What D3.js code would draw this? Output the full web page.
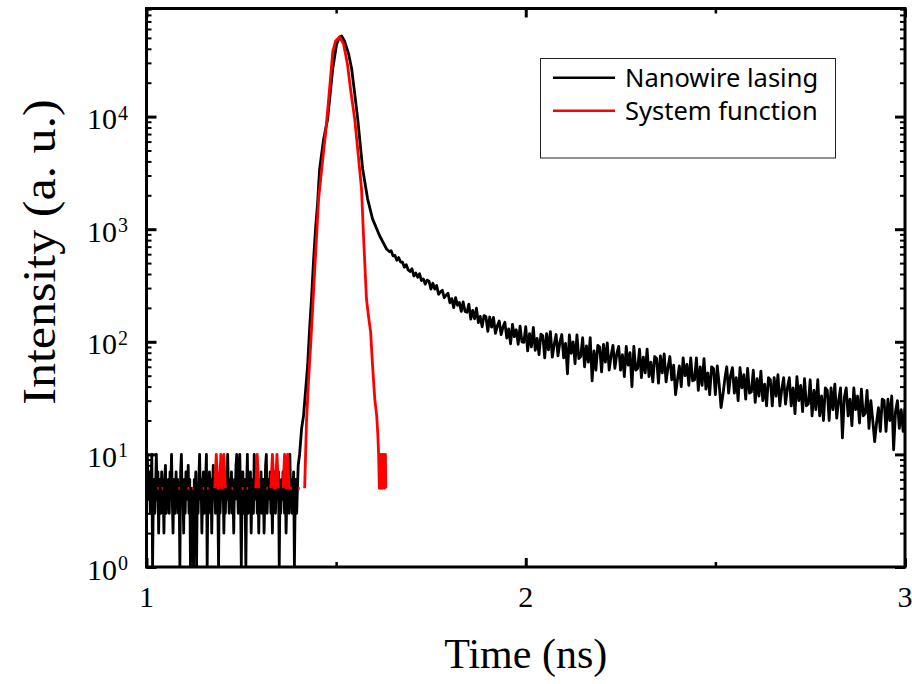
<!doctype html>
<html>
<head>
<meta charset="utf-8" />
<script src="https://d3js.org/d3.v7.min.js"></script>
<style>
  body{ margin:0; background:#fff; }
  text{ font-family: "Liberation Serif", "Times New Roman", serif; fill:#000; }
  .legend text{ font-family: "Noto Sans", "DejaVu Sans", sans-serif; }
</style>
</head>
<body>
<script>
// background counts of the lasing trace, bins of 2 ps from 1.0 ns
var blackBaseStart = 1.0, blackBaseStep = 0.002;
var blackBase = [10,10,6,4,7,3,5,10,1,4,
  6,3,5,10,4,7,2,5,6,3,
  7,4,5,2,6,8,3,5,4,6,
  3,7,5,10,4,2,6,5,3,7,
  4,6,3,5,1,7,10,4,5,2,
  6,3,7,4,5,8,3,6,1,4,
  5,3,1,6,4,7,1,5,3,6,
  10,4,6,2,5,7,3,4,6,10,
  1,5,3,7,4,6,2,5,8,4,
  6,3,5,7,4,1,6,3,5,7,
  4,6,2,5,3,7,4,10,5,3,
  6,4,7,3,5,2,6,4,8,10,
  5,3,6,10,4,1,5,7,3,6,
  4,1,5,10,3,6,4,7,2,5,
  6,3,10,5,4,7,3,6,2,5,
  4,7,3,5,6,2,4,8,10,3,
  5,6,4,7,3,5,2,6,4,7,
  3,5,6,4,7,1,5,3,6,4,
  7,5,3,6,2,4,7,5,3,10,
  4,6,3,5,7,1,4,6,3,5,
  8];

// rise + peak of lasing trace [time ns, counts]
var blackPeak = [[1.4037,10],[1.409,17],[1.414,22],[1.4195,37],[1.4248,61],[1.430,130],
  [1.435,240],[1.4406,540],[1.446,1040],[1.451,1680],[1.4565,3430],[1.467,6300],
  [1.4776,9500],[1.491,26500],[1.5013,44000],[1.509,50700],[1.5145,52000],[1.522,47000],
  [1.533,36000],[1.541,26500],[1.549,16000],[1.557,9500],[1.570,3430],[1.583,1860],
  [1.596,1234],[1.615,870],[1.633,667],[1.641,630]];

// decay tail, bins of 5 ps from 1.645 ns
var tailStart = 1.645, tailStep = 0.005;
var blackTail = [645,580,586,529,560,511,509,460,484,435,
  421,445,384,408,374,403,350,362,325,353,
  345,294,331,294,317,264,278,287,246,259,
  270,222,242,201,247,211,224,186,226,186,
  183,216,159,190,160,199,148,168,136,171,
  167,124,166,135,165,119,138,153,116,135,
  149,108,130,96,143,111,128,95,138,100,
  99,136,83,118,90,134,84,107,77,117,
  113,72,118,85,123,73,95,116,75,99,
  116,72,97,52,115,79,100,64,115,71,
  74,109,60,92,66,109,45,83,56,93,
  90,54,95,66,98,56,75,93,58,78,
  91,56,77,49,91,62,80,40,91,56,
  58,86,48,73,53,86,49,66,44,74,
  71,43,75,53,78,44,59,74,46,62,
  34,46,61,40,72,50,63,41,72,45,
  46,72,37,60,41,71,38,53,34,60,
  58,34,61,42,26,34,47,60,35,50,
  59,35,48,30,59,39,51,31,58,35,
  36,56,29,47,33,55,30,42,27,48,
  46,27,48,33,51,27,38,48,28,39,
  48,27,39,23,49,30,41,24,47,27,
  28,46,22,37,25,46,22,33,20,39,
  37,20,39,25,42,21,30,39,14,32,
  39,22,31,18,39,25,33,19,38,22,
  23,37,17,30,20,13,19,26,16,31,
  30,16,31,20,33,11,24,30,17,25,
  16,26];

// system function background, bins of 4 ps from 1.0 ns (0 = no count)
var redBaseStart = 1.0, redBaseStep = 0.004;
var redBase = [5,5,0,0,0,0,0,5,5,0,
  5,5,0,0,0,0,0,0,0,0,
  0,5,5,0,0,0,0,5,5,0,
  5,5,0,0,0,0,0,5,5,0,
  5,5,0,0,0,5,10,5,5,10,
  5,10,5,0,0,0,5,5,0,0,
  0,0,0,5,5,0,5,5,0,0,
  0,0,5,10,5,0,0,0,0,5,
  5,0,5,10,5,5,10,5,0,0,
  5,10,5,10,5,5,5,0,0,0,
  5,5,0,0];

var redPeak = [[1.417,5],[1.4195,10],[1.422,20],[1.427,44],[1.4327,92],[1.438,195],
  [1.4433,417],[1.4485,870],[1.4538,1860],[1.459,2740],[1.464,3970],[1.472,7000],
  [1.478,11700],[1.4855,22500],[1.491,37500],[1.4987,47000],[1.509,51000],[1.5198,44000],
  [1.530,29000],[1.538,17500],[1.549,9500],[1.557,5100],[1.567,2270],[1.5726,820],
  [1.580,240],[1.5858,165],[1.591,122],[1.596,62],[1.602,31],[1.607,22],[1.610,15],
  [1.612,10],[1.614,5],[1.616,10],[1.618,5],[1.620,10],[1.622,5],[1.624,10],[1.626,10],
  [1.628,5],[1.630,10],[1.631,5]];

var xTicks = [1, 2, 3];
var xMinor = [1.5, 2.5];
var yTicks = [1, 10, 100, 1000, 10000];
var yLabelExp = ["0", "1", "2", "3", "4"];
var legendNames = ["Nanowire lasing", "System function"];
var legendColors = ["#000000", "#ff0000"];

function chart(){
  var W = 912, H = 684;
  var left = 146.5, right = 905, top = 8.5, bottom = 567;

  var svg = d3.select("body").append("svg").attr("width", W).attr("height", H);
  svg.append("rect").attr("width", W).attr("height", H).attr("fill", "#fff");

  var x = d3.scaleLinear().domain([1, 3]).range([left, right]);
  var y = d3.scaleLog().domain([1, Math.pow(10, 4.96)]).range([bottom, top]);

  var black = blackBase.map(function(v, i){ return {t: blackBaseStart + i * blackBaseStep, v: v}; })
    .concat(blackPeak.map(function(p){ return {t: p[0], v: p[1]}; }))
    .concat(blackTail.map(function(v, i){ return {t: tailStart + i * tailStep, v: v}; }));
  var red = redBase.map(function(v, i){ return {t: redBaseStart + i * redBaseStep, v: v}; })
    .concat(redPeak.map(function(p){ return {t: p[0], v: p[1]}; }));

  svg.append("clipPath").attr("id", "plot")
    .append("rect").attr("x", left).attr("y", top).attr("width", right - left).attr("height", bottom - top);

  var line = d3.line().defined(function(d){ return d.v > 0; })
    .x(function(d){ return x(d.t); }).y(function(d){ return y(d.v); });

  var g = svg.append("g").attr("clip-path", "url(#plot)");
  g.append("path").datum(black).attr("d", line)
    .attr("fill", "none").attr("stroke", "#000").attr("stroke-width", 2.8).attr("stroke-linejoin", "round");
  g.append("path").datum(red).attr("d", line)
    .attr("fill", "none").attr("stroke", "#ff0000").attr("stroke-width", 2.8).attr("stroke-linejoin", "round");

  // ticks, all pointing inward, mirrored on top/right
  var yMinor = y.ticks().filter(function(v){ return yTicks.indexOf(v) < 0 && v > 1; });
  function ticks(axis, tf, size, width){
    var a = svg.append("g").attr("transform", tf).call(axis.tickSize(size).tickFormat(""));
    a.select(".domain").remove();
    a.selectAll("line").attr("stroke", "#000").attr("stroke-width", width);
  }
  ticks(d3.axisBottom(x).tickValues(xTicks), "translate(0," + bottom + ")", -9, 3);
  ticks(d3.axisBottom(x).tickValues(xMinor), "translate(0," + bottom + ")", -5, 2.5);
  ticks(d3.axisTop(x).tickValues(xTicks), "translate(0," + top + ")", -9, 3);
  ticks(d3.axisTop(x).tickValues(xMinor), "translate(0," + top + ")", -5, 2.5);
  ticks(d3.axisLeft(y).tickValues(yTicks), "translate(" + left + ",0)", -10, 3);
  ticks(d3.axisLeft(y).tickValues(yMinor), "translate(" + left + ",0)", -5, 2);
  ticks(d3.axisRight(y).tickValues(yTicks), "translate(" + right + ",0)", -10, 3);
  ticks(d3.axisRight(y).tickValues(yMinor), "translate(" + right + ",0)", -5, 2);

  svg.append("rect").attr("x", left).attr("y", top).attr("width", right - left).attr("height", bottom - top)
    .attr("fill", "none").attr("stroke", "#000").attr("stroke-width", 3);

  // tick labels
  svg.selectAll("text.xl").data(xTicks).enter().append("text").attr("class", "xl")
    .attr("x", function(d){ return x(d); }).attr("y", 607)
    .attr("text-anchor", "middle").attr("font-size", 30).text(function(d){ return d; });

  var yl = svg.selectAll("g.yl").data(yTicks).enter().append("g").attr("class", "yl")
    .attr("transform", function(d){ return "translate(0," + y(d) + ")"; });
  yl.append("text").attr("x", 117).attr("y", 12.5).attr("text-anchor", "end")
    .attr("font-size", 30).text("10");
  yl.append("text").attr("x", 118).attr("y", 3).attr("font-size", 20)
    .text(function(d, i){ return yLabelExp[i]; });

  // axis titles
  svg.append("text").attr("x", (left + right) / 2).attr("y", 668)
    .attr("text-anchor", "middle").attr("font-size", 42).text("Time (ns)");
  svg.append("text").attr("transform", "translate(55,252) scale(0.92,1) rotate(-90)")
    .attr("text-anchor", "middle").attr("font-size", 50).text("Intensity (a. u.)");

  // legend
  var lg = svg.append("g").attr("class", "legend");
  lg.append("rect").attr("x", 540.5).attr("y", 58.5).attr("width", 295).attr("height", 99.5)
    .attr("fill", "#fff").attr("stroke", "#222").attr("stroke-width", 1);
  var items = lg.selectAll("g").data(legendNames).enter().append("g")
    .attr("transform", function(d, i){ return "translate(0," + (77.7 + i * 33) + ")"; });
  items.append("line").attr("x1", 553).attr("x2", 615)
    .attr("stroke", function(d, i){ return legendColors[i]; }).attr("stroke-width", 2.6);
  items.append("text").attr("x", 625).attr("y", 9).attr("font-size", 25.5).text(function(d){ return d; });
}

chart();
</script>
</body>
</html>
